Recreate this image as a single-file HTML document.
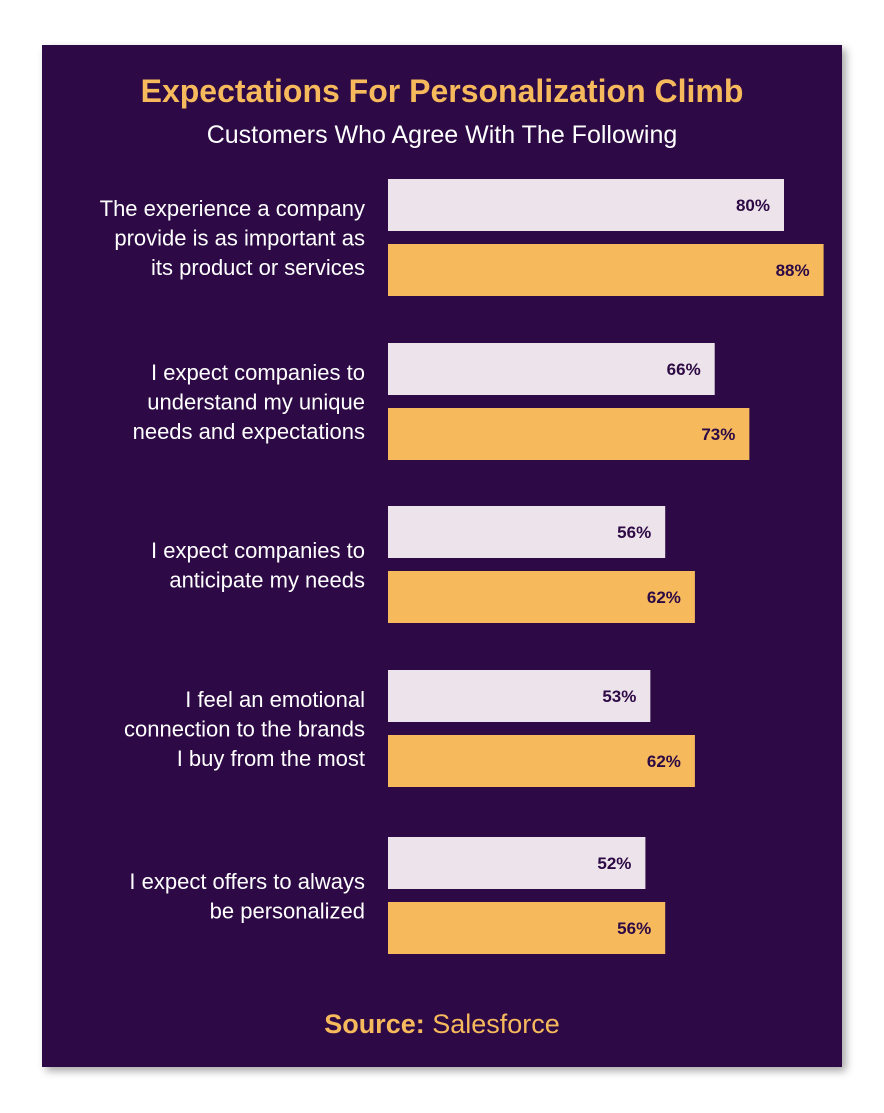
<!DOCTYPE html>
<html><head><meta charset="utf-8"><style>
html,body{margin:0;padding:0;background:#fff;}
body{width:884px;height:1113px;position:relative;font-family:"Liberation Sans",sans-serif;}
#card{position:absolute;left:42px;top:45px;width:800px;height:1022px;background:#2d0a45;box-shadow:4px 4px 8px rgba(0,0,0,0.35);}
svg{position:absolute;left:0;top:0;}
</style></head><body>
<div id="card"></div>
<svg id="chart" width="884" height="1113">
<text x="442" y="102" text-anchor="middle" font-size="32" font-weight="bold" fill="#f6b95c">Expectations For Personalization Climb</text>
<text x="442" y="143" text-anchor="middle" font-size="25" fill="#ffffff">Customers Who Agree With The Following</text>
<text x="442" y="1033" text-anchor="middle" font-size="27" fill="#f6b95c"><tspan font-weight="bold">Source:</tspan> Salesforce</text>
</svg>
<script>
const categories=[
 ["The experience a company","provide is as important as","its product or services"],
 ["I expect companies to","understand my unique","needs and expectations"],
 ["I expect companies to","anticipate my needs"],
 ["I feel an emotional","connection to the brands","I buy from the most"],
 ["I expect offers to always","be personalized"]
];
const seriesPrev=[80,66,56,53,52];
const seriesCurr=[88,73,62,62,56];
const groupTops=[179,343,506,670,837];
const NS="http://www.w3.org/2000/svg";
const svg=document.getElementById('chart');
const x0=388, pxPer=4.95, barH=52, gap=13;
function xScale(v){return v*pxPer;}
function mk(t,a){const e=document.createElementNS(NS,t);for(const k in a)e.setAttribute(k,a[k]);svg.appendChild(e);return e;}
categories.forEach((lines,i)=>{
  const top=groupTops[i];
  [[seriesPrev[i],'#ede3ea',top,'prev'],[seriesCurr[i],'#f6b95c',top+barH+gap,'curr']].forEach(([v,c,y,s])=>{
    const w=xScale(v);
    const r=mk('rect',{x:x0,y:y,width:w,height:barH,fill:c});
    
    
    const t=mk('text',{x:x0+w-14,y:y+barH/2+6,'text-anchor':'end','font-size':'17','font-weight':'bold',fill:'#2d0a45'});
    t.textContent=v+'%';
    
    
  });
  const center=top+barH+gap/2;
  const lh=29.5;
  const start=center-(lines.length-1)*lh/2;
  const t=mk('text',{x:365,'text-anchor':'end','font-size':'22',fill:'#ffffff'});
  
  
  lines.forEach((l,j)=>{const ts=document.createElementNS(NS,'tspan');ts.setAttribute('x',365);ts.setAttribute('y',start+j*lh+8);ts.textContent=l;t.appendChild(ts);});
});
</script>
</body></html>
